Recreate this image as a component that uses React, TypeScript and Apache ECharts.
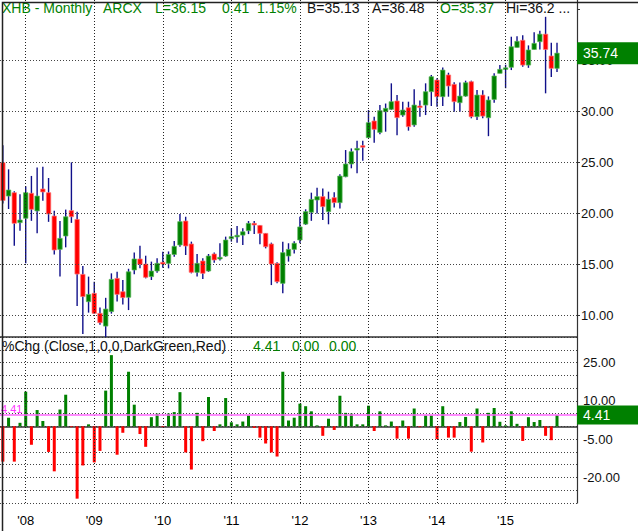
import React, { useEffect, useRef } from "react";
import * as echarts from "echarts";

// ---- categories (months Sep 2007 .. Jan 2016) ----
const START_YEAR = 2007;
const START_MONTH = 9;
const MONTH_COUNT = 101;
const months: string[] = [];
for (let k = 0; k < MONTH_COUNT; k++) {
  const m = START_MONTH - 1 + k;
  const y = START_YEAR + Math.floor(m / 12);
  const mm = (m % 12) + 1;
  months.push(`${y}-${String(mm).padStart(2, "0")}`);
}

// ---- monthly OHLC ----
const opens = [
  25.0, 21.73, 22.06, 19.12, 19.55, 22.0, 20.27, 22.42, 22.06, 19.77,
  16.5, 17.81, 20.3, 19.44, 14.05, 11.37, 12.19, 10.23, 8.98, 10.4,
  13.66, 12.35, 11.8, 14.48, 15.56, 15.06, 13.83, 14.38, 15.23, 15.13,
  16.0, 16.93, 19.28, 17.03, 14.25, 15.36, 14.38, 16.05, 15.56, 15.85,
  17.55, 17.75, 17.9, 18.33, 19.05, 18.85, 18.07, 17.03, 15.13, 13.17,
  15.85, 16.5, 17.42, 18.98, 20.14, 21.34, 21.67, 20.2, 21.57, 21.08,
  23.63, 24.87, 26.24, 26.67, 27.45, 29.09, 27.97, 30.0, 30.23, 31.05,
  29.67, 30.39, 28.7, 30.56, 30.65, 31.96, 33.1, 31.47, 33.6, 32.68,
  30.88, 31.53, 32.94, 29.51, 31.63, 29.41, 31.2, 33.76, 34.15, 34.35,
  36.3, 37.0, 34.57, 36.1, 36.86, 37.6, 35.46, 34.25,
];
const closes = [
  21.3, 22.32, 19.05, 19.38, 22.06, 20.43, 21.73, 22.13, 19.97, 16.44,
  17.58, 19.7, 19.7, 14.08, 11.87, 12.09, 10.23, 9.31, 10.65, 13.56,
  12.09, 11.77, 14.3, 15.56, 15.03, 13.76, 14.38, 15.13, 15.06, 16.0,
  16.8, 19.22, 16.83, 14.25, 15.13, 14.15, 15.85, 15.46, 15.72, 17.42,
  17.75, 17.88, 18.23, 19.05, 18.9, 18.07, 16.76, 15.07, 13.33, 16.18,
  16.5, 17.1, 18.7, 20.2, 21.4, 21.67, 20.69, 21.41, 21.08, 23.69,
  24.87, 26.08, 26.4, 26.57, 28.92, 28.27, 30.1, 30.33, 30.98, 29.41,
  30.16, 28.53, 30.65, 30.49, 31.96, 33.43, 31.47, 34.08, 32.52, 30.98,
  31.53, 32.84, 29.51, 31.63, 29.57, 31.14, 33.5, 34.15, 34.3, 36.37,
  36.9, 34.57, 36.05, 36.7, 37.6, 36.1, 34.25, 35.74,
];
const lows = [
  21.0, 20.46, 16.86, 18.33, 15.13, 19.3, 18.07, 21.28, 19.2, 16.0,
  13.83, 16.7, 19.1, 10.95, 8.2, 10.3, 10.17, 9.1, 7.9, 10.2,
  11.4, 11.1, 10.55, 14.05, 14.64, 13.66, 13.5, 14.22, 14.7, 14.64,
  15.78, 16.77, 15.95, 14.15, 13.83, 13.6, 14.3, 15.2, 15.4, 15.78,
  17.26, 17.16, 16.93, 18.0, 18.0, 17.0, 16.6, 13.0, 13.17, 12.2,
  15.3, 16.1, 17.1, 18.9, 19.3, 20.03, 19.38, 18.96, 20.6, 20.5,
  23.57, 24.45, 23.96, 25.2, 27.45, 26.96, 27.8, 28.04, 30.16, 27.7,
  29.5, 28.14, 28.53, 29.5, 29.67, 30.56, 30.49, 30.56, 31.47, 30.0,
  30.0, 31.47, 29.35, 29.18, 29.35, 27.6, 30.88, 33.76, 32.3, 34.08,
  36.3, 34.4, 34.3, 36.1, 36.1, 31.8, 33.4, 33.9,
];
const highs = [
  26.7, 24.35, 22.2, 21.9, 22.7, 23.7, 24.54, 24.6, 23.5, 20.3,
  19.28, 20.4, 25.03, 20.2, 14.87, 13.83, 13.33, 10.8, 11.75, 14.15,
  14.3, 13.5, 14.6, 16.2, 16.86, 15.88, 15.3, 15.62, 16.27, 16.3,
  17.32, 19.97, 19.7, 17.26, 16.05, 15.62, 16.05, 16.2, 17.1, 17.75,
  18.57, 18.8, 18.57, 19.28, 19.28, 18.88, 18.1, 17.16, 15.23, 17.26,
  17.1, 17.3, 19.7, 20.43, 22.06, 22.55, 22.48, 22.16, 22.1, 23.86,
  26.24, 26.4, 27.16, 27.15, 30.16, 29.5, 30.65, 30.8, 32.78, 31.63,
  30.98, 30.98, 32.2, 31.1, 32.78, 33.6, 33.27, 34.34, 33.82, 32.88,
  32.85, 33.04, 33.04, 32.13, 32.1, 31.5, 33.76, 34.58, 34.6, 37.35,
  37.4, 37.5, 36.5, 37.8, 37.94, 39.3, 36.76, 36.76,
];

// ---- monthly % change ----
const pctChg = [
  -13.8, 3.4, -13.8, 1.4, 13.6, -7.2, 6.4, 2.1, -10.0, -17.6,
  6.6, 12.4, -0.3, -28.3, -15.3, 0.8, -14.1, -9.6, 14.0, 27.9,
  -11.1, -2.5, 21.4, 8.5, -3.0, -8.0, 3.6, 5.0, -0.3, 5.0,
  5.6, 13.4, -10.2, -16.9, 5.3, -5.8, 11.5, -1.8, 0.8, 11.1,
  1.6, 0.8, 1.9, 4.3, -0.6, -4.4, -6.7, -10.2, -11.8, 21.4,
  2.3, 3.4, 8.9, 7.9, 5.9, 0.4, -3.7, 3.0, -1.4, 12.0,
  5.3, 5.0, 0.8, 0.8, 8.1, -1.8, 5.9, 0.4, 1.9, -4.8,
  2.3, -4.8, 7.0, -0.3, 4.3, 4.3, -5.0, 7.9, -4.4, -4.4,
  1.7, 3.7, -9.9, 7.0, -6.3, 5.3, 7.2, 1.8, 0.4, 5.9,
  1.0, -5.7, 3.6, 1.7, 2.5, -3.7, -5.4, 4.41,
];

const yearStarts = ["2008-01", "2009-01", "2010-01", "2011-01", "2012-01", "2013-01", "2014-01", "2015-01"];
const priceGridValues = [10, 15, 20, 25, 30, 35];
const pctLabelValues = [25, 10, -5, -20];
const lastPrice = 35.74;
const lastPct = 4.41;

const titleParts = [
  { text: "XHB - Monthly", color: "#008000", x: 2 },
  { text: "ARCX", color: "#008000", x: 103 },
  { text: "L=36.15", color: "#008000", x: 155 },
  { text: "0.41", color: "#008000", x: 222 },
  { text: "1.15%", color: "#008000", x: 257 },
  { text: "B=35.13", color: "#111111", x: 307 },
  { text: "A=36.48", color: "#111111", x: 372 },
  { text: "O=35.37", color: "#008000", x: 440 },
  { text: "Hi=36.2 ...", color: "#111111", x: 506 },
];
const subTitleParts = [
  { text: "%Chg (Close,1,0,0,DarkGreen,Red)", color: "#111111", x: 2 },
  { text: "4.41", color: "#008000", x: 253 },
  { text: "0.00", color: "#008000", x: 292 },
  { text: "0.00", color: "#008000", x: 329 },
];

const FONT = 'Arial, "Liberation Sans", sans-serif';
const UP = "#008000";
const DOWN = "#ff0000";
const DOT: any = [1, 2];
const CLEAR = "rgba(0,0,0,0)";

const makeYearLines = () =>
  yearStarts.map((m) => ({
    xAxis: m,
    lineStyle: { color: "#222", type: DOT, width: 1 },
    label: { show: false },
  }));

const boxLabel = (value: number, lineHeight: number, pad: number[]) => ({
  show: true,
  position: "end",
  distance: 0,
  formatter: value.toFixed(2),
  color: "#ffffff",
  backgroundColor: UP,
  fontSize: 14,
  fontFamily: FONT,
  lineHeight,
  padding: pad,
  width: 49,
});

export default function App() {
  const ref = useRef<HTMLDivElement>(null);

  useEffect(() => {
    if (!ref.current) return;
    const chart = echarts.init(ref.current, null, { renderer: "svg" });

    const ohlc = opens.map((o, i) => [i, o, closes[i], lows[i], highs[i]]);

    const option: any = {
      animation: false,
      backgroundColor: "#ffffff",
      textStyle: { fontFamily: FONT },
      grid: [
        { left: 0, top: 0, width: 577, height: 337 },
        { left: 0, top: 337, width: 577, height: 166 },
      ],
      xAxis: [
        {
          type: "category",
          gridIndex: 0,
          data: months,
          boundaryGap: true,
          axisLine: { show: true, lineStyle: { color: "#333", width: 1.5 } },
          axisTick: { show: false },
          axisLabel: { show: false },
          splitLine: { show: false },
        },
        {
          type: "category",
          gridIndex: 1,
          data: months,
          boundaryGap: true,
          axisLine: { show: true, lineStyle: { color: "#333", width: 1.5 } },
          axisTick: { show: false },
          axisLabel: {
            interval: (_i: number, v: string) => v.endsWith("-01") && yearStarts.indexOf(v) >= 0,
            formatter: (v: string) => (yearStarts.indexOf(v) >= 0 ? "'" + v.slice(2, 4) : ""),
            color: "#000",
            fontSize: 13,
            fontFamily: FONT,
            margin: 11,
          },
          splitLine: { show: false },
        },
      ],
      yAxis: [
        {
          type: "value",
          gridIndex: 0,
          position: "right",
          min: 7.91,
          max: 40.95,
          splitNumber: 6,
          axisLine: { show: true, lineStyle: { color: "#333", width: 1.2 } },
          axisTick: { show: true, length: 3, lineStyle: { color: "#333" } },
          axisLabel: {
            showMinLabel: false,
            showMaxLabel: false,
            formatter: (v: number) => (v >= 10 && v <= 35 ? v.toFixed(2) : ""),
            color: "#111",
            fontSize: 13,
            fontFamily: FONT,
            margin: 4,
          },
          splitLine: { show: false },
        },
        {
          type: "value",
          gridIndex: 1,
          position: "right",
          min: -30,
          max: 35,
          interval: 5,
          axisLine: { show: true, lineStyle: { color: "#333", width: 1.2 } },
          axisTick: { show: false },
          axisLabel: {
            formatter: (v: number) => (pctLabelValues.indexOf(v) >= 0 ? v.toFixed(2) : ""),
            color: "#111",
            fontSize: 13,
            fontFamily: FONT,
            margin: 6,
          },
          splitLine: { show: true, lineStyle: { color: "#444", type: DOT, width: 1 } },
        },
      ],
      series: [
        {
          name: "guides",
          type: "line",
          xAxisIndex: 0,
          yAxisIndex: 0,
          data: closes,
          symbol: "none",
          showSymbol: false,
          lineStyle: { width: 0, color: CLEAR },
          silent: true,
          z: 1,
          markLine: {
            silent: true,
            symbol: ["none", "none"],
            animation: false,
            data: [
              ...priceGridValues.map((v) => ({
                yAxis: v,
                lineStyle: { color: "#444", type: DOT, width: 1 },
                label: { show: false },
              })),
              ...makeYearLines(),
            ],
          },
        },
        {
          name: "XHB",
          type: "custom",
          xAxisIndex: 0,
          yAxisIndex: 0,
          data: ohlc,
          encode: { x: 0, y: [1, 2, 3, 4] },
          clip: true,
          z: 3,
          renderItem: (_params: any, api: any) => {
            const i = api.value(0);
            const o = api.value(1);
            const c = api.value(2);
            const l = api.value(3);
            const h = api.value(4);
            const pO = api.coord([i, o]);
            const pC = api.coord([i, c]);
            const pL = api.coord([i, l]);
            const pH = api.coord([i, h]);
            const x = pO[0];
            const w = api.size([1, 0])[0] * 0.78;
            const up = c >= o;
            const top = Math.min(pO[1], pC[1]);
            let ht = Math.abs(pO[1] - pC[1]);
            if (ht < 1.6) ht = 1.6;
            return {
              type: "group",
              children: [
                {
                  type: "line",
                  shape: { x1: x, y1: pH[1], x2: x, y2: pL[1] },
                  style: { stroke: "#10108a", lineWidth: 1.4 },
                },
                {
                  type: "rect",
                  shape: { x: x - w / 2, y: top, width: w, height: ht },
                  style: {
                    fill: up ? UP : DOWN,
                    stroke: up ? "#5cb85c" : "#ff7a7a",
                    lineWidth: 0.7,
                  },
                },
              ],
            };
          },
        },
        {
          name: "lastPrice",
          type: "line",
          xAxisIndex: 0,
          yAxisIndex: 0,
          data: closes,
          symbol: "none",
          showSymbol: false,
          lineStyle: { width: 0, color: CLEAR },
          silent: true,
          z: 10,
          markLine: {
            silent: true,
            symbol: ["none", "none"],
            animation: false,
            data: [
              {
                yAxis: lastPrice,
                lineStyle: { color: CLEAR, width: 1 },
                label: boxLabel(lastPrice, 14, [4, 6, 4, 6]),
              },
            ],
          },
        },
        {
          name: "%Chg",
          type: "bar",
          xAxisIndex: 1,
          yAxisIndex: 1,
          barWidth: 3,
          z: 3,
          data: pctChg.map((v) => ({ value: v, itemStyle: { color: v >= 0 ? UP : DOWN } })),
          markLine: {
            silent: true,
            symbol: ["none", "none"],
            animation: false,
            data: [
              ...makeYearLines(),
              {
                yAxis: lastPct,
                lineStyle: { color: "#ff66ff", type: "solid", width: 1.5 },
                label: {
                  show: true,
                  position: "insideStartTop",
                  distance: 1,
                  formatter: lastPct.toFixed(2),
                  color: "#ff33ff",
                  fontSize: 11,
                  fontFamily: FONT,
                },
              },
              {
                yAxis: lastPct,
                lineStyle: { color: CLEAR, width: 1 },
                label: boxLabel(lastPct, 13, [3, 6, 3, 6]),
              },
            ],
          },
        },
      ],
      graphic: [
        ...titleParts.map((p) => ({
          type: "text",
          left: p.x,
          top: 1,
          z: 100,
          style: { text: p.text, fill: p.color, font: `14px ${FONT}` },
        })),
        ...subTitleParts.map((p) => ({
          type: "text",
          left: p.x,
          top: 339,
          z: 100,
          style: { text: p.text, fill: p.color, font: `14px ${FONT}` },
        })),
        {
          type: "rect",
          left: 0,
          top: 0,
          z: 101,
          shape: { x: 0, y: 0, width: 637, height: 530 },
          style: { fill: "none", stroke: "#222", lineWidth: 1.5 },
        },
      ],
    };

    chart.setOption(option);
    return () => chart.dispose();
  }, []);

  return (
    <div
      ref={ref}
      style={{ position: "absolute", left: 0, top: 0, width: 638, height: 531 }}
    />
  );
}
